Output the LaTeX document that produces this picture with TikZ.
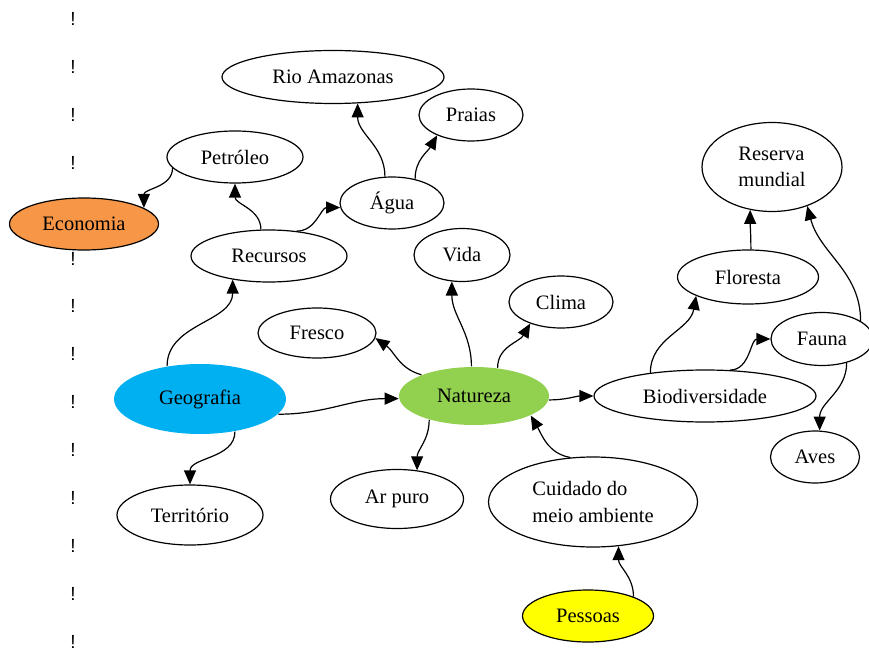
\documentclass[tikz,border=0pt]{standalone}
\usepackage{fontspec}
\setmainfont{Liberation Serif}
\setsansfont{Liberation Sans}
\usepackage{tikz}
\usetikzlibrary{shapes,arrows.meta,positioning}
\definecolor{ecoorange}{RGB}{247, 150, 70}
\definecolor{geoblue}{RGB}{0, 176, 240}
\definecolor{natgreen}{RGB}{146, 208, 80}
\definecolor{pesyellow}{RGB}{255, 255, 0}
\tikzstyle{concept} = [ellipse, draw=black, line width=1.2pt, fill=white, text=black, align=left, inner sep=0pt, font=\fontsize{20.5}{26.5}\selectfont, minimum height=52pt]
\tikzstyle{hub} = [concept, draw=none, minimum height=58pt]
\tikzstyle{bang} = [draw=none, fill=none, inner sep=0pt, font=\sffamily\fontsize{19}{19}\selectfont]
\tikzstyle{cedge} = [draw, line width=1.2pt, >={Triangle[length=14pt,width=12pt]}, ->]

\begin{document}
\begin{tikzpicture}[x=1pt, y=-1pt, on grid]
\useasboundingbox (0,0) rectangle (869,652);

% margin marks (the fifth one sits behind Economia)
\foreach \k in {0,1,2,3,5,6,7,8,9,10,11,12,13}
  \node[bang] (bang\k) at (73, {19+47.9*\k}) {!};

% concepts =============================
\node[hub, fill=natgreen, minimum width=150pt] (natureza) at (474,396) {Natureza};
\node[hub, fill=geoblue, minimum width=172pt, minimum height=70pt, below left=3pt and 274pt of natureza] (geografia) {Geografia};
\node[concept, minimum width=156pt, above right=143pt and 69pt of geografia] (recursos) {Recursos};
\node[concept, minimum width=136pt, above left=99pt and 34pt of recursos] (petroleo) {Petróleo};
\node[concept, fill=ecoorange, minimum width=149pt, below left=67pt and 151pt of petroleo] (economia) {Economia};
\node[concept, minimum width=104pt, above right=53pt and 123pt of recursos] (agua) {Água};
\node[concept, minimum width=222pt, minimum height=53pt, above left=126pt and 59pt of agua] (rio) {Rio Amazonas};
\node[concept, minimum width=104pt, above right=88pt and 79pt of agua] (praias) {Praias};
\node[concept, minimum width=146pt, minimum height=60pt, below left=116pt and 10pt of geografia] (territorio) {Território};
\node[concept, minimum width=118pt, minimum height=50pt, above left=63pt and 157pt of natureza] (fresco) {Fresco};
\node[concept, minimum width=96pt, minimum height=53pt, above left=141pt and 12pt of natureza] (vida) {Vida};
\node[concept, minimum width=104pt, above right=94pt and 87pt of natureza] (clima) {Clima};
\node[concept, minimum width=133pt, minimum height=59pt, below left=103pt and 77pt of natureza] (arpuro) {Ar puro};
\node[concept, minimum width=209pt, minimum height=90pt, below right=106pt and 119pt of natureza] (cuidado) {Cuidado do\\meio ambiente};
\node[concept, fill=pesyellow, minimum width=131pt, below left=114pt and 5pt of cuidado] (pessoas) {Pessoas};
\node[concept, minimum width=222pt, right=231pt of natureza] (biodiv) {Biodiversidade};
\node[concept, minimum width=141pt, minimum height=54pt, above right=119pt and 43pt of biodiv] (floresta) {Floresta};
\node[concept, minimum width=140pt, minimum height=89pt, above right=110pt and 24pt of floresta] (reserva) {Reserva\\mundial};
\node[concept, minimum width=102pt, minimum height=53pt, above right=57pt and 117pt of biodiv] (fauna) {Fauna};
\node[concept, minimum width=89pt, below left=118pt and 7pt of fauna] (aves) {Aves};

% edges
\path[cedge] (petroleo.190) to[out=-90, in=90] (economia.15);
\path[cedge] (recursos.107) to[out=90, in=-90] (petroleo.south);
\path[cedge] (recursos.42) to[out=0, in=180] (agua.185);
\path[cedge] (agua.105) to[out=90, in=-90] (rio.-47);
\path[cedge] (agua.46) to[out=90, in=-120] (praias.211);
\path[cedge] (geografia.135) to[out=90, in=-90] (recursos.213);
\path[cedge] (geografia.-11) to[out=0, in=180] (natureza.182);
\path[cedge] (geografia.-43) to[out=-90, in=90] (territorio.north);
\path[cedge] (natureza.158) to[out=165, in=-35] (fresco.-5);
\path[cedge] (natureza.95) to[out=90, in=-90] (vida.-111);
\path[cedge] (natureza.50) to[out=90, in=-120] (clima.215);
\path[cedge] (natureza.-3) to[out=0, in=180] (biodiv.west);
\path[cedge] (natureza.208) to[out=-90, in=90] (arpuro.55);
\path[cedge] (cuidado.117) to[out=170, in=-60] (natureza.-19);
\path[cedge] (pessoas.23) to[out=90, in=-90] (cuidado.-60);
\path[cedge] (biodiv.157) to[out=90, in=-100] (floresta.200);
\path[cedge] (biodiv.46) to[out=0, in=180] (fauna.west);
\path[cedge] (fauna.-44) to[out=-90, in=90] (aves.80);
\path[cedge] (floresta.84) to[out=90, in=-90] (reserva.-117);
\path[cedge] (fauna.25) to[out=90, in=-75] (reserva.-48);

\end{tikzpicture}
\end{document}
